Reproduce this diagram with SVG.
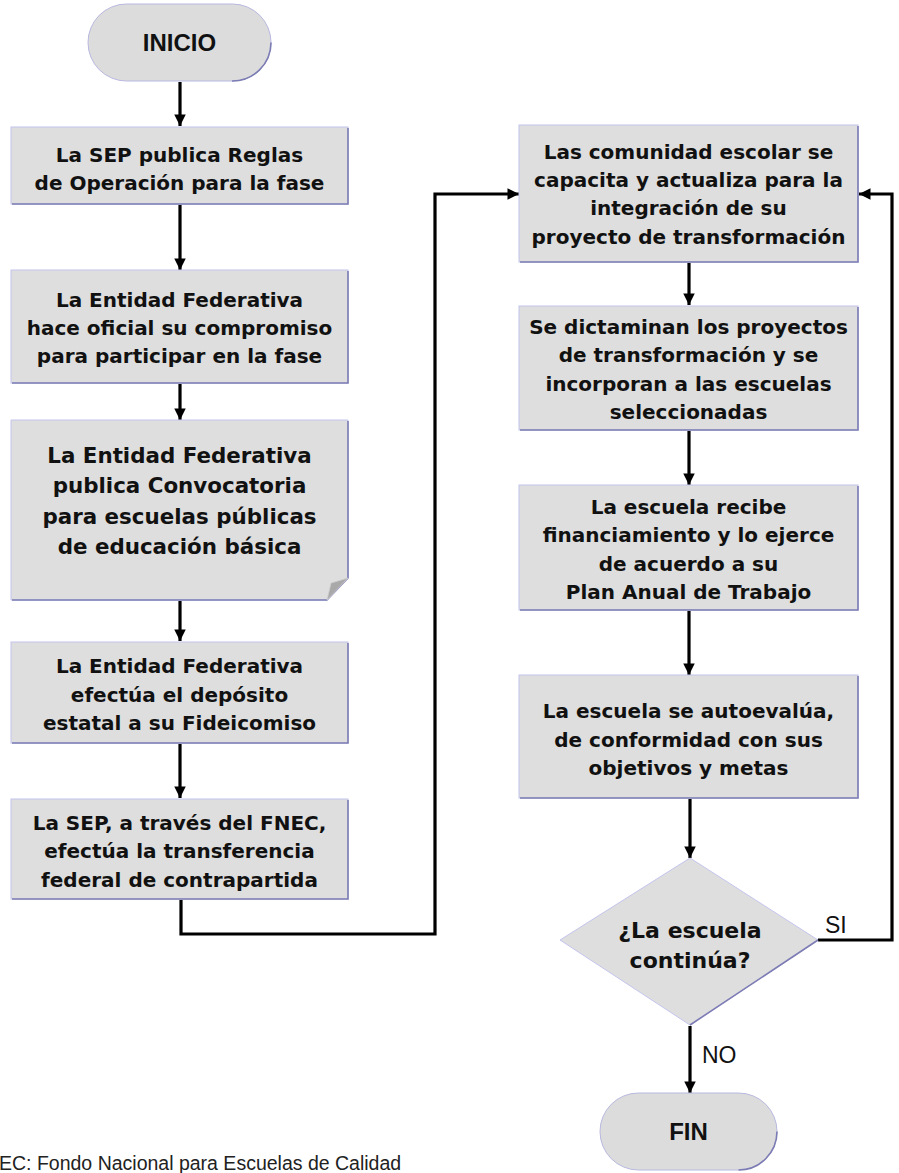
<svg xmlns="http://www.w3.org/2000/svg" width="899" height="1173" viewBox="0 0 899 1173">
<style>
.box{fill:#dedede;stroke:#c4c4ee;stroke-width:1}
.sh{fill:none;stroke:#7c7cb4;stroke-width:1.6}
.t{font-family:"DejaVu Sans",Verdana,sans-serif;font-weight:bold;font-size:20px;fill:#111;text-anchor:middle}
.tb{font-size:21.4px}
.td{font-size:22px}
.term{font-family:"Liberation Sans",Arial,sans-serif;font-weight:bold;font-size:24px;fill:#111;text-anchor:middle}
.lbl{font-family:"Liberation Sans",Arial,sans-serif;font-size:23px;fill:#111}
.foot{font-family:"Liberation Sans",Arial,sans-serif;font-size:19.5px;fill:#222}
.c{fill:none;stroke:#000;stroke-width:3.2;stroke-linejoin:miter}
</style>
<defs>
<marker id="ah" viewBox="0 0 10 10" refX="10" refY="5" markerWidth="3.6" markerHeight="3.6" markerUnits="strokeWidth" orient="auto">
<path d="M0,0 L10,5 L0,10 z" fill="#000"/>
</marker>
</defs>
<rect width="899" height="1173" fill="#fff"/>

<g id="connectors">
<line class="c" x1="180" y1="82" x2="180" y2="126" marker-end="url(#ah)"/>
<line class="c" x1="180" y1="205" x2="180" y2="270" marker-end="url(#ah)"/>
<line class="c" x1="180" y1="384" x2="180" y2="420" marker-end="url(#ah)"/>
<line class="c" x1="180" y1="601" x2="180" y2="641" marker-end="url(#ah)"/>
<line class="c" x1="180" y1="744" x2="180" y2="798" marker-end="url(#ah)"/>
<polyline class="c" points="181,900 181,934 435,934 435,194 519,194" marker-end="url(#ah)"/>
<line class="c" x1="689" y1="263" x2="689" y2="305" marker-end="url(#ah)"/>
<line class="c" x1="689" y1="431" x2="689" y2="485" marker-end="url(#ah)"/>
<line class="c" x1="689" y1="611" x2="689" y2="675" marker-end="url(#ah)"/>
<line class="c" x1="690" y1="799" x2="690" y2="858" marker-end="url(#ah)"/>
<polyline class="c" points="818,940 892,940 892,194 859,194" marker-end="url(#ah)"/>
<line class="c" x1="690" y1="1026" x2="690" y2="1093" marker-end="url(#ah)"/>
<text class="lbl" x="825" y="933">SI</text>
<text class="lbl" x="702" y="1063">NO</text>
</g>

<g id="inicio">
<rect x="88" y="4" width="183" height="77" rx="38.5" ry="38.5" fill="#dcdcdc" stroke="#b8b8e0" stroke-width="1"/>
<path class="sh" d="M232,81 A38.5,38.5 0 0 0 271,42.5"/>
<text class="term" x="179.5" y="51">INICIO</text>
</g>

<g id="n1">
<rect class="box" x="11" y="127" width="337" height="77"/>
<polyline class="sh" points="12,204 348,204 348,128"/>
<text class="t" x="179.5" y="162">La SEP publica Reglas</text>
<text class="t" x="179.5" y="190">de Operación para la fase</text>
</g>

<g id="n2">
<rect class="box" x="11" y="270" width="337" height="113"/>
<polyline class="sh" points="12,383 348,383 348,271"/>
<text class="t" x="179.5" y="307">La Entidad Federativa</text>
<text class="t" x="179.5" y="335">hace oficial su compromiso</text>
<text class="t" x="179.5" y="363">para participar en la fase</text>
</g>

<g id="n3">
<path class="box" d="M11,420 H348 V578 L327,600 H11 Z"/>
<polyline class="sh" points="12,600 327,600 348,578 348,421"/>
<path d="M348,578 L327,600 L331,583 Z" fill="#a9a9a9" stroke="#cfcfcf" stroke-width="0.8"/>
<text class="t tb" x="179.5" y="463">La Entidad Federativa</text>
<text class="t tb" x="179.5" y="493">publica Convocatoria</text>
<text class="t tb" x="179.5" y="524">para escuelas públicas</text>
<text class="t tb" x="179.5" y="554">de educación básica</text>
</g>

<g id="n4">
<rect class="box" x="11" y="642" width="337" height="101"/>
<polyline class="sh" points="12,743 348,743 348,643"/>
<text class="t" x="179.5" y="673">La Entidad Federativa</text>
<text class="t" x="179.5" y="702">efectúa el depósito</text>
<text class="t" x="179.5" y="730">estatal a su Fideicomiso</text>
</g>

<g id="n5">
<rect class="box" x="11" y="799" width="337" height="100"/>
<polyline class="sh" points="12,899 348,899 348,800"/>
<text class="t" x="179.5" y="830">La SEP, a través del FNEC,</text>
<text class="t" x="179.5" y="858">efectúa la transferencia</text>
<text class="t" x="179.5" y="887">federal de contrapartida</text>
</g>

<g id="r1">
<rect class="box" x="519" y="125" width="339" height="137"/>
<polyline class="sh" points="520,262 858,262 858,126"/>
<text class="t" x="688.5" y="159">Las comunidad escolar se</text>
<text class="t" x="688.5" y="187">capacita y actualiza para la</text>
<text class="t" x="688.5" y="215">integración de su</text>
<text class="t" x="688.5" y="244">proyecto de transformación</text>
</g>

<g id="r2">
<rect class="box" x="519" y="306" width="339" height="124"/>
<polyline class="sh" points="520,430 858,430 858,307"/>
<text class="t" x="688.5" y="334">Se dictaminan los proyectos</text>
<text class="t" x="688.5" y="362">de transformación y se</text>
<text class="t" x="688.5" y="391">incorporan a las escuelas</text>
<text class="t" x="688.5" y="419">seleccionadas</text>
</g>

<g id="r3">
<rect class="box" x="519" y="485" width="339" height="125"/>
<polyline class="sh" points="520,610 858,610 858,486"/>
<text class="t" x="688.5" y="514">La escuela recibe</text>
<text class="t" x="688.5" y="542">financiamiento y lo ejerce</text>
<text class="t" x="688.5" y="571">de acuerdo a su</text>
<text class="t" x="688.5" y="599">Plan Anual de Trabajo</text>
</g>

<g id="r4">
<rect class="box" x="519" y="675" width="339" height="123"/>
<polyline class="sh" points="520,798 858,798 858,676"/>
<text class="t" x="688.5" y="718">La escuela se autoevalúa,</text>
<text class="t" x="688.5" y="747">de conformidad con sus</text>
<text class="t" x="688.5" y="775">objetivos y metas</text>
</g>

<g id="decision">
<polygon points="690,858 818,940 690,1025 560,940" fill="#dedede" stroke="#c4c4ee" stroke-width="1"/>
<polyline class="sh" points="818,940 690,1025"/>
<text class="t td" x="690" y="938">¿La escuela</text>
<text class="t td" x="690" y="968">continúa?</text>
</g>

<g id="fin">
<rect x="600" y="1093" width="177" height="77" rx="38.5" ry="38.5" fill="#dcdcdc" stroke="#b8b8e0" stroke-width="1"/>
<path class="sh" d="M738.5,1170 A38.5,38.5 0 0 0 777,1131.5"/>
<text class="term" x="688.5" y="1140">FIN</text>
</g>

<g id="footer">
<text class="foot" x="-1" y="1170">EC: Fondo Nacional para Escuelas de Calidad</text>
</g>
</svg>
